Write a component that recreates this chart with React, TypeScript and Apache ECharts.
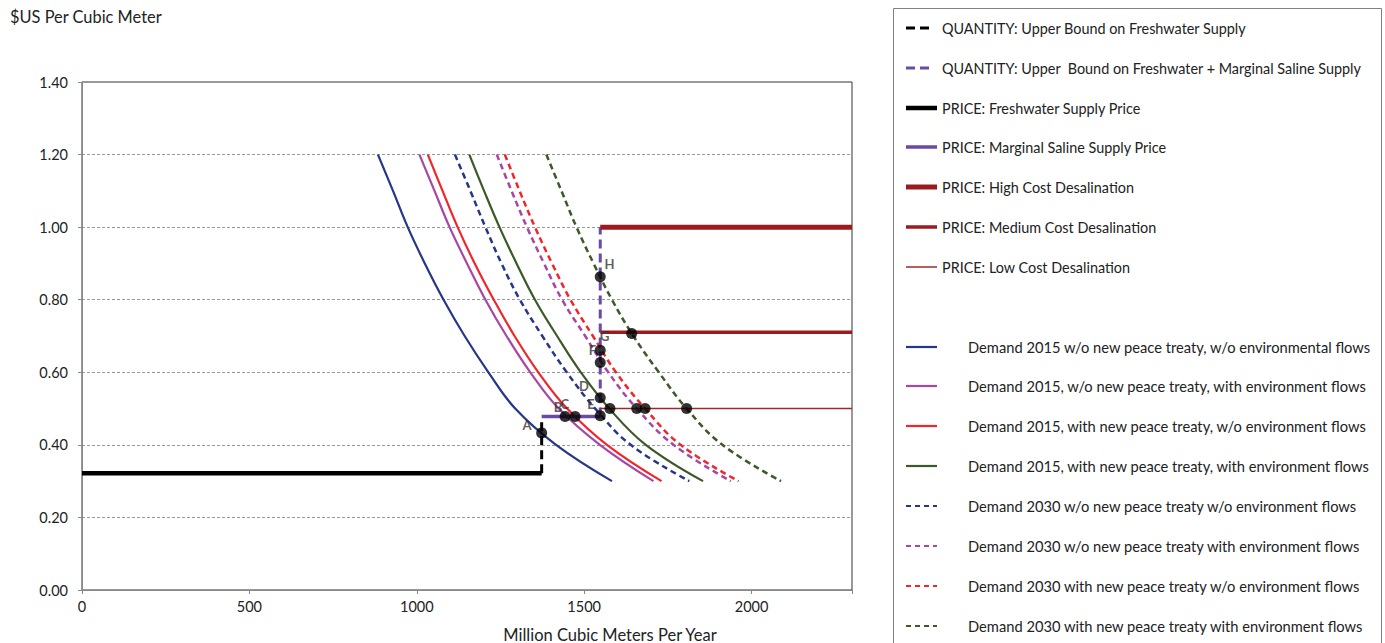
import React, { useEffect, useRef } from 'react';
import * as echarts from 'echarts';

// Price levels (US$ per cubic meter) at which demand curves were read
const priceLevels = [1.2, 1.1, 1.0, 0.9, 0.8, 0.7, 0.6, 0.5, 0.4, 0.3];

// Quantities (million m3 / year) demanded at each price level
const d2015NoTreatyNoEnv = [884, 929, 973, 1024, 1080, 1143, 1214, 1294, 1416, 1583];
const d2015NoTreatyEnv = [1008, 1053, 1098, 1150, 1205, 1268, 1339, 1424, 1547, 1707];
const d2015TreatyNoEnv = [1033, 1077, 1122, 1173, 1230, 1292, 1363, 1449, 1568, 1731];
const d2015TreatyEnv = [1157, 1201, 1247, 1298, 1353, 1419, 1490, 1575, 1684, 1855];
const d2030NoTreatyNoEnv = [1114, 1160, 1205, 1253, 1308, 1375, 1448, 1533, 1639, 1814];
const d2030NoTreatyEnv = [1239, 1283, 1329, 1380, 1434, 1503, 1572, 1657, 1767, 1938];
const d2030TreatyNoEnv = [1263, 1307, 1353, 1404, 1459, 1526, 1595, 1682, 1788, 1961];
const d2030TreatyEnv = [1387, 1432, 1477, 1528, 1583, 1647, 1723, 1806, 1913, 2088];

// Supply / price lines: [quantity, price]
const freshwaterBound = [[1373, 0.322], [1373, 0.465]];
const salineBound = [[1548, 0.478], [1548, 1.0]];
const freshwaterPrice = [[0, 0.322], [1373, 0.322]];
const salinePrice = [[1373, 0.478], [1548, 0.478]];
const highCostDesal = [[1548, 1.0], [2300, 1.0]];
const mediumCostDesal = [[1548, 0.71], [2300, 0.71]];
const lowCostDesal = [[1548, 0.5], [2300, 0.5]];

// Equilibrium points
const eqPoints = [
  [1373, 0.433], [1443, 0.478], [1473, 0.478], [1548, 0.48], [1548, 0.53],
  [1548, 0.627], [1548, 0.661], [1548, 0.863], [1642, 0.707],
  [1577, 0.5], [1657, 0.5], [1682, 0.5], [1806, 0.5],
];

// Point letter labels [letter, quantity, price]
const pointLabels: [string, number, number][] = [
  ['A', 1329, 0.455], ['B', 1422, 0.504], ['C', 1442, 0.513], ['D', 1499, 0.562],
  ['E', 1520, 0.513], ['F', 1525, 0.661], ['G', 1561, 0.70], ['H', 1576, 0.898],
];

const xTicks = [0, 500, 1000, 1500, 2000];

type Sty = { name: string; color: string; width: number; dash: number[] | null };

const supplyStyles: Sty[] = [
  { name: 'QUANTITY: Upper Bound on Freshwater Supply', color: '#000000', width: 3, dash: [9, 5] },
  { name: 'QUANTITY: Upper  Bound on Freshwater + Marginal Saline Supply', color: '#6A4BA3', width: 3, dash: [9, 5] },
  { name: 'PRICE: Freshwater Supply Price', color: '#000000', width: 4.5, dash: null },
  { name: 'PRICE: Marginal Saline Supply Price', color: '#6A4BA3', width: 3.5, dash: null },
  { name: 'PRICE: High Cost Desalination', color: '#9B1C1F', width: 5, dash: null },
  { name: 'PRICE: Medium Cost Desalination', color: '#9B1C1F', width: 3.5, dash: null },
  { name: 'PRICE: Low Cost Desalination', color: '#A0282A', width: 1.5, dash: null },
];
const supplyData = [freshwaterBound, salineBound, freshwaterPrice, salinePrice, highCostDesal, mediumCostDesal, lowCostDesal];

const demandStyles: Sty[] = [
  { name: 'Demand 2015 w/o new peace treaty, w/o environmental flows', color: '#27368A', width: 2.2, dash: null },
  { name: 'Demand 2015, w/o new peace treaty, with environment flows', color: '#A846A6', width: 2.2, dash: null },
  { name: 'Demand 2015, with new peace treaty, w/o environment flows', color: '#F2262A', width: 2.2, dash: null },
  { name: 'Demand 2015, with new peace treaty, with environment flows', color: '#3C5A28', width: 2.2, dash: null },
  { name: 'Demand 2030 w/o new peace treaty w/o environment flows', color: '#27368A', width: 2.5, dash: [6, 4] },
  { name: 'Demand 2030 w/o new peace treaty with environment flows', color: '#A846A6', width: 2.5, dash: [6, 4] },
  { name: 'Demand 2030 with new peace treaty w/o environment flows', color: '#F2262A', width: 2.5, dash: [6, 4] },
  { name: 'Demand 2030 with new peace treaty with environment flows', color: '#3C5A28', width: 2.5, dash: [6, 4] },
];
const demandData = [
  d2015NoTreatyNoEnv, d2015NoTreatyEnv, d2015TreatyNoEnv, d2015TreatyEnv,
  d2030NoTreatyNoEnv, d2030NoTreatyEnv, d2030TreatyNoEnv, d2030TreatyEnv,
];

const FONT = 'Lato, "Open Sans", sans-serif';

export default function App() {
  const ref = useRef<HTMLDivElement>(null);
  useEffect(() => {
    document.body.style.margin = '0';
    const chart = echarts.init(ref.current!, null, { renderer: 'svg' });

    const series: any[] = [];
    demandStyles.forEach((s, i) => {
      series.push({
        type: 'line', name: s.name, smooth: 0.4, symbol: 'none', z: 2,
        data: demandData[i].map((q, k) => [q, priceLevels[k]]),
        lineStyle: { color: s.color, width: s.width, type: s.dash ? s.dash : 'solid' },
      });
    });
    supplyStyles.forEach((s, i) => {
      series.push({
        type: 'line', name: s.name, symbol: 'none', z: 3,
        data: supplyData[i],
        lineStyle: { color: s.color, width: s.width, type: s.dash ? s.dash : 'solid' },
      });
    });
    series.push({
      type: 'scatter', name: 'points', symbol: 'circle', symbolSize: 11, z: 5,
      itemStyle: { color: '#000' }, data: eqPoints,
    });
    series.push({
      type: 'scatter', name: 'labels', symbolSize: 0, z: 6,
      data: pointLabels.map(([l, x, y]) => ({ value: [x, y], name: l })),
      label: {
        show: true, position: 'inside', formatter: (p: any) => p.name,
        fontFamily: FONT, fontWeight: 'bold', fontSize: 13, color: '#333',
      },
    });

    const graphic: any[] = [
      { type: 'rect', shape: { x: 893.5, y: 8.5, width: 488, height: 650 }, style: { fill: 'none', stroke: '#808080', lineWidth: 1 } },
      { type: 'text', x: 10, y: 8, style: { text: '$US Per Cubic Meter', font: `16.4px ${FONT}`, fill: '#222' } },
      { type: 'text', x: 610, y: 626, style: { text: 'Million Cubic Meters Per Year', font: `16.5px ${FONT}`, fill: '#222', align: 'center' } },
    ];
    const supplyY = [28, 68, 108, 147, 187, 227, 267];
    supplyStyles.forEach((s, i) => {
      graphic.push({
        type: 'line', shape: { x1: 906, y1: supplyY[i], x2: s.dash ? 932 : 937, y2: supplyY[i] },
        style: { stroke: s.color, lineWidth: s.width, lineDash: s.dash || null },
      });
      graphic.push({
        type: 'text', x: 942, y: supplyY[i], style: { text: s.name, font: `14.4px ${FONT}`, fill: '#222', verticalAlign: 'middle' },
      });
    });
    const demandY = [347, 386, 426, 466, 506, 546, 586, 626];
    demandStyles.forEach((s, i) => {
      graphic.push({
        type: 'line', shape: { x1: 906, y1: demandY[i], x2: 937, y2: demandY[i] },
        style: { stroke: s.color, lineWidth: 2.2, lineDash: s.dash ? [5, 4] : null },
      });
      graphic.push({
        type: 'text', x: 968, y: demandY[i], style: { text: s.name, font: `14.7px ${FONT}`, fill: '#222', verticalAlign: 'middle' },
      });
    });

    chart.setOption({
      animation: false,
      backgroundColor: '#fff',
      grid: { left: 82, top: 82, width: 770, height: 508, show: true, borderColor: '#333', borderWidth: 1 },
      xAxis: {
        type: 'value', min: 0, max: 2300, interval: 500,
        axisLine: { show: true, lineStyle: { color: '#888' } },
        axisTick: { show: true, length: 4, lineStyle: { color: '#888' } },
        axisLabel: {
          fontFamily: FONT, fontSize: 14.5, color: '#222', margin: 9,
          formatter: (v: number) => (xTicks.includes(v) ? String(v) : ''),
        },
        splitLine: { show: false },
      },
      yAxis: {
        type: 'value', min: 0, max: 1.4, interval: 0.2,
        axisLine: { show: true, lineStyle: { color: '#888' } },
        axisTick: { show: true, length: 4, lineStyle: { color: '#888' } },
        axisLabel: { fontFamily: FONT, fontSize: 14.5, color: '#222', margin: 14, formatter: (v: number) => v.toFixed(2) },
        splitLine: { show: true, lineStyle: { color: '#999', type: [3, 2], width: 1 } },
      },
      graphic,
      series,
    });
    return () => chart.dispose();
  }, []);
  return <div ref={ref} style={{ width: 1385, height: 643 }} />;
}
